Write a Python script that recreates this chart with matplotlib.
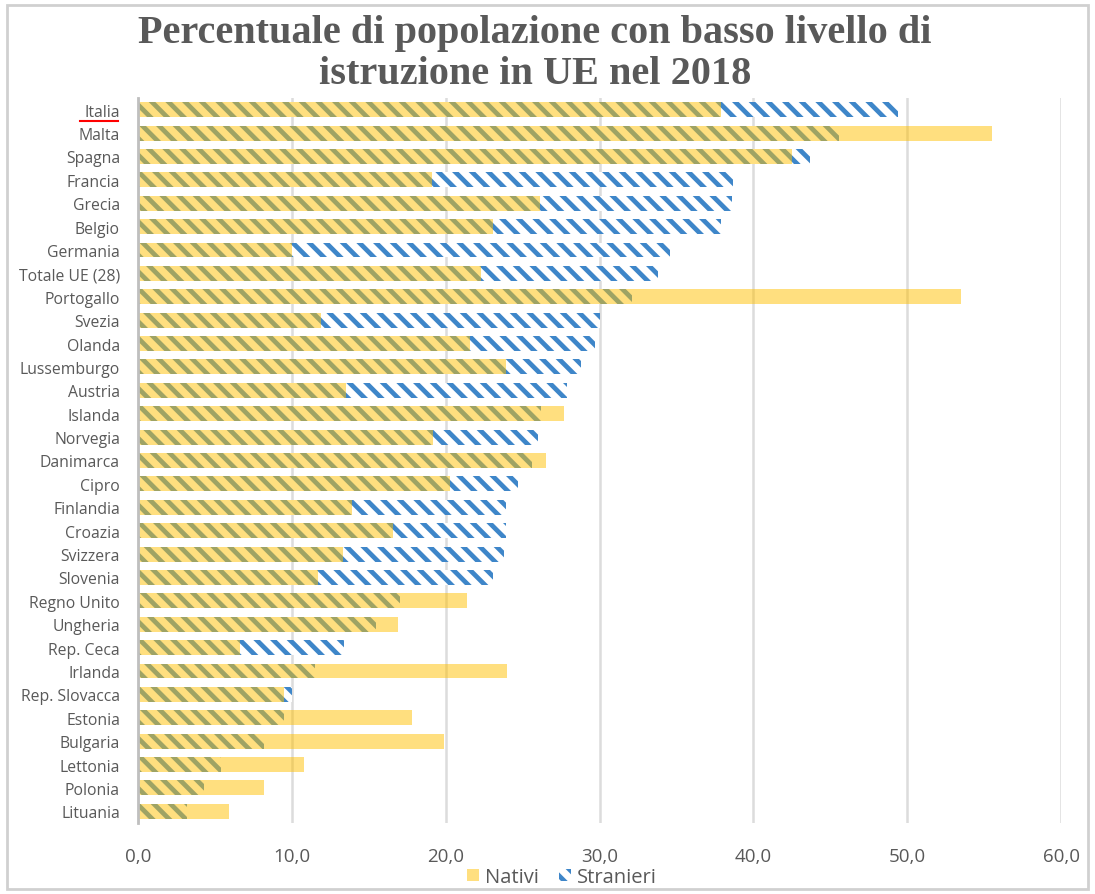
import matplotlib.pyplot as plt
from matplotlib.patches import Rectangle, Patch
from matplotlib.lines import Line2D

# Paesi, ordinati come nel grafico (dall'alto verso il basso)
paesi = ["Italia", "Malta", "Spagna", "Francia", "Grecia", "Belgio", "Germania",
         "Totale UE (28)", "Portogallo", "Svezia", "Olanda", "Lussemburgo", "Austria",
         "Islanda", "Norvegia", "Danimarca", "Cipro", "Finlandia", "Croazia",
         "Svizzera", "Slovenia", "Regno Unito", "Ungheria", "Rep. Ceca", "Irlanda",
         "Rep. Slovacca", "Estonia", "Bulgaria", "Lettonia", "Polonia", "Lituania"]

nativi = [37.9, 55.5, 42.5, 19.1, 26.1, 23.1, 10.0, 22.3, 53.5, 11.9, 21.6, 23.9,
          13.5, 27.7, 19.2, 26.5, 20.3, 13.9, 16.6, 13.3, 11.7, 21.4, 16.9, 6.6,
          24.0, 9.5, 17.8, 19.9, 10.8, 8.2, 5.9]

stranieri = [49.4, 45.6, 43.7, 38.7, 38.6, 37.9, 34.6, 33.8, 32.1, 30.0, 29.7, 28.8,
             27.9, 26.2, 26.0, 25.6, 24.7, 23.9, 23.9, 23.8, 23.1, 17.0, 15.5, 13.4,
             11.5, 10.0, 9.5, 8.2, 5.4, 4.3, 3.2]

giallo = "#FFC000"
blu = "#3E86C9"
grigio = "#595959"

plt.rcParams["hatch.linewidth"] = 3.4
plt.rcParams["font.family"] = ["Open Sans", "DejaVu Sans"]

fig = plt.figure(figsize=(10.95, 8.95), dpi=100)
ax = fig.add_axes([138 / 1095, 1 - 824 / 895, (1061 - 138) / 1095, 725 / 895])

y = list(range(len(paesi)))
h = 0.64

# prima gli stranieri (tratteggio), poi i nativi semitrasparenti sopra
ax.barh(y, stranieri, height=h, facecolor="white", edgecolor=blu,
        hatch="\\\\", linewidth=0, zorder=2)
ax.barh(y, nativi, height=h, color=giallo, alpha=0.5, linewidth=0, zorder=3)

ax.set_xlim(0, 60)
ax.set_ylim(len(paesi) - 0.5, -0.5)
ax.set_xticks(range(0, 61, 10))
ax.set_xticklabels([f"{v},0" for v in range(0, 61, 10)])
ax.set_yticks(y)
ax.set_yticklabels(paesi)

ax.tick_params(axis="y", length=0, pad=13, labelsize=11.3, labelcolor=grigio)
ax.tick_params(axis="x", length=0, pad=17, labelsize=13.5, labelcolor=grigio)

ax.grid(axis="x", color="#dcdcdc", linewidth=1.8, zorder=0)
ax.set_axisbelow(True)
for s in ["top", "right", "bottom"]:
    ax.spines[s].set_visible(False)
ax.spines["left"].set_color("#bfbfbf")
ax.spines["left"].set_linewidth(2)
ax.spines["left"].set_zorder(4)

fig.text(535 / 1095, 1 - 34 / 895, "Percentuale di popolazione con basso livello di",
         ha="center", va="center", fontsize=29, fontweight="bold",
         family="Liberation Serif", color=grigio)
fig.text(535 / 1095, 1 - 74 / 895, "istruzione in UE nel 2018",
         ha="center", va="center", fontsize=29, fontweight="bold",
         family="Liberation Serif", color=grigio)

# sottolineatura rossa sotto "Italia"
fig.add_artist(Line2D([80 / 1095, 118 / 1095], [1 - 122 / 895] * 2,
                      color="red", linewidth=1.5))

handles = [Patch(facecolor=giallo, alpha=0.5, linewidth=0, label="Nativi"),
           Patch(facecolor="white", edgecolor=blu, hatch="\\\\", linewidth=0,
                 label="Stranieri")]
fig.legend(handles=handles, loc="center", bbox_to_anchor=(562 / 1095, 1 - 878 / 895),
           ncol=2, frameon=False, fontsize=14.5, labelcolor=grigio,
           handlelength=0.6, handleheight=0.6, handletextpad=0.3, columnspacing=1.0,
           borderpad=0)

# cornice esterna
fig.add_artist(Rectangle((7 / 1095, 5 / 895), 1081 / 1095, 884 / 895,
                         transform=fig.transFigure, fill=False,
                         edgecolor="#d0d0d0", linewidth=2))

fig.savefig("out.png", dpi=100)
